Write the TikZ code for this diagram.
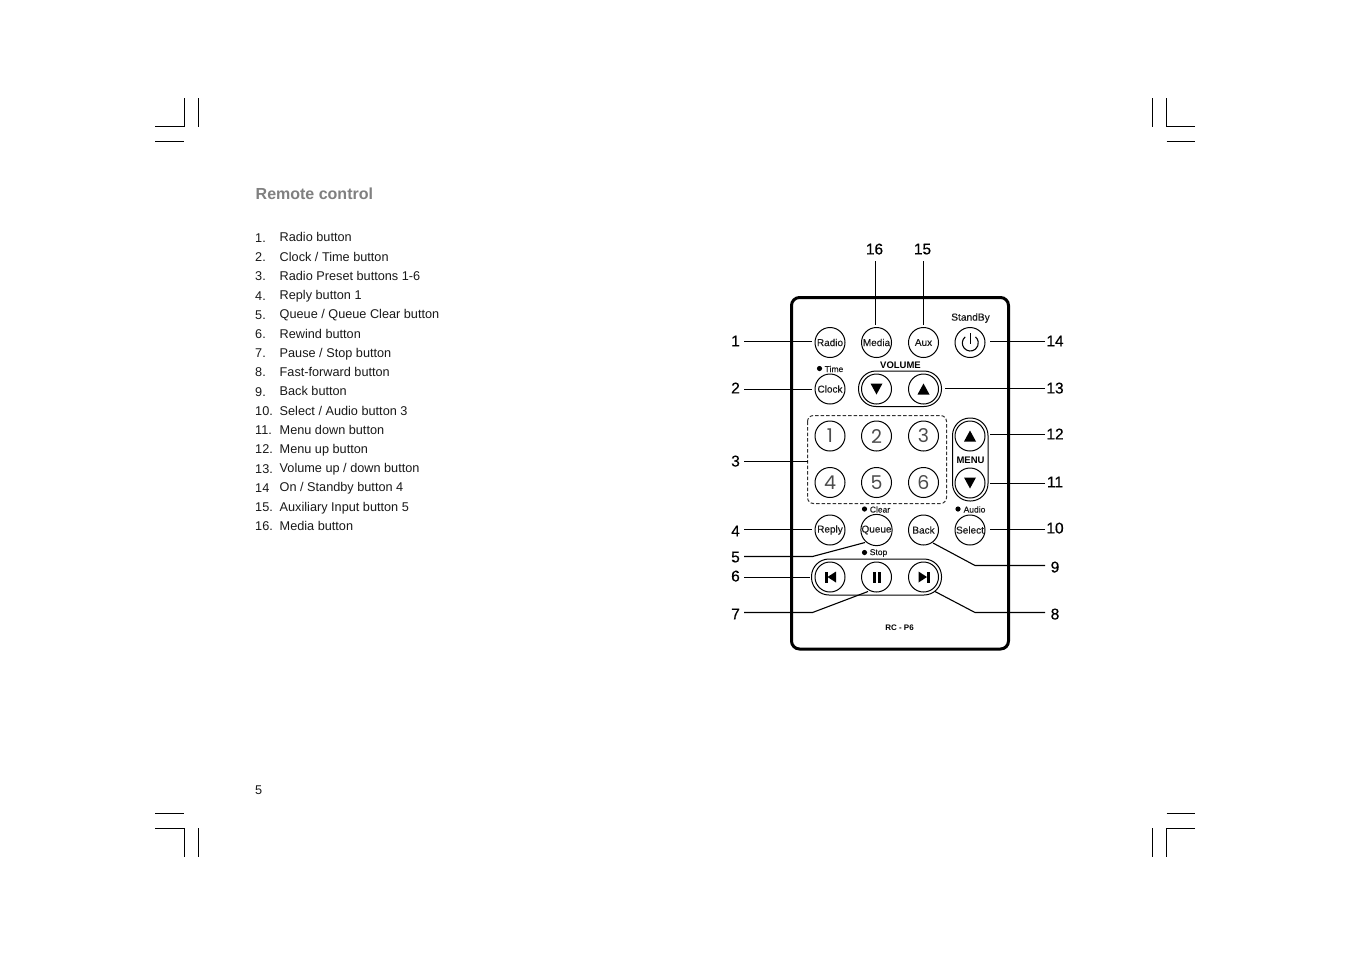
\documentclass[tikz,border=0pt]{standalone}
\usepackage{fontspec}
\setmainfont{Liberation Sans}
\newfontfamily\keyfont{Poppins}
\newfontfamily\labfont[FakeBold=0.5]{Liberation Sans}
\newfontfamily\btnfont[FakeBold=0.15]{Liberation Sans}
\newcommand{\fs}[1]{\fontsize{#1}{#1}\selectfont}
\tikzset{
  x=1pt,y=-1pt,
  crop/.style={line width=1pt,black},
  btn/.style={circle,draw,line width=1pt,minimum size=30pt,inner sep=0pt,outer sep=0pt,font=\btnfont\fs{10},text=black!90},
  keybtn/.style={btn,font=\keyfont\fs{19},text=black!70},
  listnum/.style={anchor=base west,inner sep=0pt,font=\fs{12.7},text=black!90},
  listtxt/.style={anchor=base west,inner sep=0pt,font=\fs{12.7},text=black!90},
  lab/.style={inner sep=0pt,font=\labfont\fs{15.5},text=black,text depth=0pt},
  lableft/.style={lab,minimum width=17pt,outer sep=0pt},
  labright/.style={lab,minimum width=20pt,outer sep=0pt},
  small/.style={inner sep=0pt,font=\btnfont\fs{8.5},text=black!90},
  boldlab/.style={inner sep=0pt,font=\bfseries\fs{9.5},text=black},
  conn/.style={line width=1.1pt,black},
  capsule/.style={draw,line width=1pt,rounded corners=17.5pt,inner sep=0pt,black},
}
\begin{document}
\begin{tikzpicture}
\useasboundingbox (0,0) rectangle (1351,954);
\fill[white] (0,0) rectangle (1351,954);
% crop marks
\draw[crop] (155,126.5) -- (184,126.5) -- (184,98);
\draw[crop] (198.5,98) -- (198.5,126.5);
\draw[crop] (155,141.5) -- (184,141.5);
\draw[crop] (1195,126.5) -- (1166.5,126.5) -- (1166.5,98);
\draw[crop] (1152,98) -- (1152,126.5);
\draw[crop] (1166.5,141.5) -- (1195,141.5);
\draw[crop] (155,813.5) -- (184,813.5);
\draw[crop] (155,828) -- (184,828) -- (184,856.5);
\draw[crop] (198.5,828) -- (198.5,856.5);
\draw[crop] (1166.5,813.5) -- (1195,813.5);
\draw[crop] (1195,828) -- (1166.5,828) -- (1166.5,856.5);
\draw[crop] (1152,828) -- (1152,856.5);
% heading and list
\node[anchor=base west,inner sep=0pt,font=\bfseries\fs{16},text=black!50] (title) at (255.5,199.5) {Remote control};
\foreach \n/\t/\y/\ny/\nx in {
 1/{Radio button}/241/242/255,
 2/{Clock / Time button}/261/261/255,
 3/{Radio Preset buttons 1-6}/280/280/255,
 4/{Reply button 1}/299/300/255,
 5/{Queue / Queue Clear button}/318/319/255,
 6/{Rewind button}/338/338/255,
 7/{Pause / Stop button}/357/357/255,
 8/{Fast-forward button}/376/376/255,
 9/{Back button}/395/396/255,
 10/{Select / Audio button 3}/415/415/255,
 11/{Menu down button}/434/434/255,
 12/{Menu up button}/453/453/255,
 13/{Volume up / down button}/472/473/255,
 15/{Auxiliary Input button 5}/511/511/255,
 16/{Media button}/530/530/255}{
  \node[listnum] (n\n) at (\nx,\ny) {\n.};
  \node[listtxt] (t\n) at (279.5,\y) {\t};
}
\node[listnum] (n14) at (255,492) {14};
\node[listtxt] (t14) at (279.5,491) {On / Standby button 4};
\node[listnum] (page) at (255,794) {5};
% remote body
\draw[line width=3pt,rounded corners=8pt,black] (791.5,297.5) rectangle (1008.5,649);
\draw[line width=1pt,dash pattern=on 3.5pt off 2pt,rounded corners=6pt,black!80] (807.5,415.5) rectangle (946.5,503.5);
% capsules
\draw[capsule] (858.5,371) rectangle (941.5,406.5);
\draw[capsule] (952.5,418) rectangle (988,501);
\draw[capsule] (811.5,559) rectangle (941.5,595);
% buttons
\node[btn] (radio) at (830,342.5) {Radio};
\node[btn] (media) at (876.5,342.5) {Media};
\node[btn] (aux) at (923.5,342.5) {Aux};
\node[btn] (power) at (970,342.5) {};
\node[btn] (clock) at (830,389) {Clock};
\node[btn] (voldn) at (876.5,389) {};
\node[btn] (volup) at (923.5,389) {};
\node[keybtn] (k1) at (830,436) {1};
\node[keybtn] (k2) at (876.5,436) {2};
\node[keybtn] (k3) at (923.5,436) {3};
\node[keybtn] (k4) at (830,482.5) {4};
\node[keybtn] (k5) at (876.5,482.5) {5};
\node[keybtn] (k6) at (923.5,482.5) {6};
\node[btn] (menuup) at (970,436) {};
\node[btn] (menudn) at (970,483) {};
\node[btn] (reply) at (830,530) {Reply};
\node[btn] (queue) at (876.5,530) {Queue};
\node[btn] (back) at (923.5,530) {Back};
\node[btn] (select) at (970,530) {Select};
\node[btn] (prev) at (830,577) {};
\node[btn] (pause) at (876.5,577) {};
\node[btn] (next) at (923.5,577) {};
% icons
\fill (870.5,383.5) -- (882.5,383.5) -- (876.5,394.5) -- cycle;
\fill (917.5,394.5) -- (929.5,394.5) -- (923.5,383.5) -- cycle;
\fill (964,441.5) -- (976,441.5) -- (970,430.5) -- cycle;
\fill (964,477.5) -- (976,477.5) -- (970,488.5) -- cycle;
\fill (825,571.5) rectangle (827.5,582.5);
\fill (836,571.5) -- (836,582.5) -- (827.5,577) -- cycle;
\fill (872.5,571.5) rectangle (875.5,582.5);
\fill (878,571.5) rectangle (881,582.5);
\fill (918.5,571.5) -- (918.5,582.5) -- (927,577) -- cycle;
\fill (926.5,571.5) rectangle (929.5,582.5);
\draw[line width=1.1pt] (965.16,336.87) arc[start angle=130,end angle=410,radius=8pt];
\draw[line width=1.1pt] (970.3,333) -- (970.3,344);
% small text
\node[inner sep=0pt,font=\btnfont\fs{10.2},text=black!90] (standby) at (970.5,318) {StandBy};
\fill (819.5,368.5) circle[radius=2.6];
\node[small] (time) at (834,369) {Time};
\fill (864.5,509) circle[radius=2.6];
\node[small] (clear) at (880,509.5) {Clear};
\fill (958,509) circle[radius=2.6];
\node[small] (audio) at (974.5,509.5) {Audio};
\fill (864.5,552.5) circle[radius=2.6];
\node[small] (stop) at (878.5,553) {Stop};
\node[boldlab] (volume) at (900.5,365.5) {VOLUME};
\node[boldlab] (menu) at (970.5,460) {MENU};
\node[boldlab,font=\bfseries\fs{8}] (model) at (899.5,628) {RC - P6};
% labels
\node[lableft] (l1) at (735.5,341) {1};
\node[lableft] (l2) at (735.5,388) {2};
\node[lableft] (l3) at (735.5,461) {3};
\node[lableft] (l4) at (735.5,531) {4};
\node[lableft] (l5) at (735.5,557) {5};
\node[lableft] (l6) at (735.5,576) {6};
\node[lableft] (l7) at (735.5,614) {7};
\node[labright] (l8) at (1055,614) {8};
\node[labright] (l9) at (1055,567) {9};
\node[labright] (l10) at (1055,528) {10};
\node[labright] (l11) at (1055,482) {11};
\node[labright] (l12) at (1055,434) {12};
\node[labright] (l13) at (1055,388) {13};
\node[labright] (l14) at (1055,341) {14};
\node[lab] (l15) at (922.5,249) {15};
\node[lab] (l16) at (874.5,249) {16};
% connectors
\coordinate (c5) at (812.5,556.5);
\coordinate (c7) at (812.5,612.5);
\coordinate (c8) at (975,612.5);
\coordinate (c9) at (975,565.5);
\coordinate (d3) at (807.5,461.5);
\coordinate (e5) at (865,542.5);
\coordinate (e7) at (868,591.5);
\coordinate (e8) at (935,591.5);
\coordinate (e9) at (933,543);
\coordinate (e13) at (945,388.5);
\draw[conn,shorten >=3pt] (l1.east |- 0,341.5) -- (radio.west |- 0,341.5);
\draw[conn,shorten >=3pt] (l2.east |- 0,389.5) -- (clock.west |- 0,389.5);
\draw[conn] (l3.east |- d3) -- (d3);
\draw[conn,shorten >=3pt] (l4.east |- 0,529.5) -- (reply.west |- 0,529.5);
\draw[conn] (l5.east |- c5) -- (c5) -- (e5);
\draw[conn] (l6.east |- 0,577.5) -- (810,577.5);
\draw[conn] (l7.east |- c7) -- (c7) -- (e7);
\draw[conn] (l8.west |- c8) -- (c8) -- (e8);
\draw[conn] (l9.west |- c9) -- (c9) -- (e9);
\draw[conn,shorten >=5pt] (l10.west |- 0,529.5) -- (select.east |- 0,529.5);
\draw[conn] (l11.west |- 0,483.5) -- (990,483.5);
\draw[conn] (l12.west |- 0,434.5) -- (990,434.5);
\draw[conn] (l13.west |- e13) -- (e13);
\draw[conn] (l14.west |- 0,341.5) -- (990,341.5);
\draw[conn,shorten <=2.5pt] (aux.north -| 923.5,0) -- (923.5,261);
\draw[conn,shorten <=2.5pt] (media.north -| 875.5,0) -- (875.5,261);
\end{tikzpicture}
\end{document}
